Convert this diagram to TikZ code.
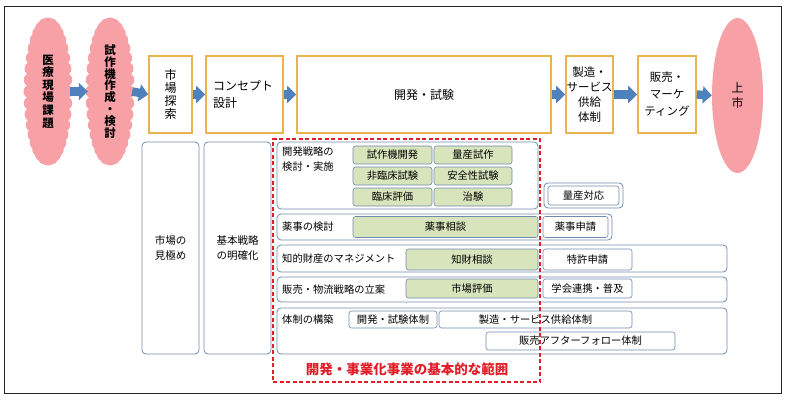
\documentclass[tikz,border=0pt]{standalone}
\usepackage{fontspec}
\setmainfont{Noto Sans CJK JP}
\usetikzlibrary{shapes.geometric,arrows.meta}
\definecolor{cloudpink}{RGB}{247,160,166}
\definecolor{stageorange}{RGB}{232,180,78}
\definecolor{flowblue}{RGB}{79,129,189}
\definecolor{laneblue}{RGB}{112,138,174}
\definecolor{taskgreen}{RGB}{216,228,188}
\definecolor{scopered}{RGB}{226,30,42}
\tikzset{
 cloudy/.style={ellipse, inner sep=0pt, minimum width=44, minimum height=146, align=center},
 stage/.style={draw=stageorange, line width=1.6pt, inner sep=0pt, align=center, font=\fontsize{11.5}{15}\selectfont},
 lane/.style={draw=laneblue, line width=.8pt, rounded corners=4pt, inner sep=0pt},
 task/.style={draw=laneblue, line width=.6pt, rounded corners=2.5pt, inner sep=0pt, fill=white, font=\fontsize{10.3}{12}\selectfont},
 greentask/.style={task, fill=taskgreen},
 flow/.style={draw=flowblue, line width=8.5pt, -{Triangle[width=17pt,length=9pt]}},
 lanetext/.style={font=\fontsize{10.3}{15}\selectfont, inner sep=0pt, align=left},
}
\newcommand\puffs[1]{%
 \fill[cloudpink, shift={(#1.center)}] (0,0) ellipse (17.5pt and 67pt);
 \foreach \t in {0,10,...,350}
  \fill[cloudpink, shift={(#1.center)}] ({17.5*cos(\t)},{67*sin(\t)}) circle (7pt);
}
\begin{document}
\begin{tikzpicture}[x=1pt, y=-1pt]
\useasboundingbox (0,0) rectangle (787,401);
\draw[black!85, line width=1pt] (4,7) rectangle (781,393);

\coordinate (kadaipos) at (48,91.5);
\coordinate (shisakupos) at (110,91.5);
\puffs{kadaipos}
\puffs{shisakupos}
\node[cloudy, font=\fontsize{11.5}{12.6}\bfseries] (kadai) at (kadaipos) {医\\療\\現\\場\\課\\題};
\node[cloudy, font=\fontsize{11.5}{11.8}\bfseries] (shisaku) at (shisakupos) {試\\作\\機\\作\\成\\・\\検\\討};

\node[stage, minimum width=43, minimum height=77, font=\fontsize{12}{13}\selectfont] (tansaku) at (170.5,94.5) {市\\場\\探\\索};
\node[stage, minimum width=77, minimum height=77, text width=63, align=left, font=\fontsize{12}{17}\selectfont] (concept) at (244.5,94.5) {コンセプト\\設計};
\node[stage, minimum width=254, minimum height=77, font=\fontsize{12}{15}\selectfont] (kaihatsu) at (424,94.5) {開発・試験};
\node[stage, minimum width=47, minimum height=77] (seizo) at (589.5,94.5) {製造・\\サービス\\供給\\体制};
\node[stage, minimum width=58, minimum height=77, font=\fontsize{11.5}{17}\selectfont] (hanbai) at (667,94.5) {販売・\\マーケ\\ティング};
\node[ellipse, fill=cloudpink, inner sep=0pt, minimum width=51, minimum height=155, align=center, font=\fontsize{12}{15}\selectfont] (jojo) at (737.5,95.5) {上\\市};

\draw[flow] (kadai.east) -- (shisaku.west);
\draw[flow] (shisaku.east) -- (tansaku.west);
\draw[flow] (tansaku.east) -- (concept.west);
\draw[flow] (concept.east) -- (kaihatsu.west);
\draw[flow] (kaihatsu.east) -- (seizo.west);
\draw[flow] (seizo.east) -- (hanbai.west);
\draw[flow] (hanbai.east) -- (jojo.west);

\node[lane, minimum width=57, minimum height=212, align=center, font=\fontsize{10.5}{15}\selectfont] (miki) at (170.5,248) {市場の\\見極め};
\node[lane, minimum width=67, minimum height=212, align=center, font=\fontsize{10.5}{15}\selectfont] (meikaku) at (237.5,248) {基本戦略\\の明確化};

\node[lane, minimum width=261, minimum height=67] (senryaku) at (407.5,175.5) {};
\node[lanetext, anchor=north west] (senryakutext) at (282,147) {開発戦略の\\検討・実施};
\node[greentask, minimum width=79, minimum height=18] (shisakuki) at (392.5,155) {試作機開発};
\node[greentask, minimum width=78, minimum height=18] (ryosanshisaku) at (473,155) {量産試作};
\node[greentask, minimum width=79, minimum height=18] (hirinsho) at (392.5,176) {非臨床試験};
\node[greentask, minimum width=78, minimum height=18] (anzen) at (473,176) {安全性試験};
\node[greentask, minimum width=79, minimum height=18] (rinsho) at (392.5,197) {臨床評価};
\node[greentask, minimum width=78, minimum height=18] (chiken) at (473,197) {治験};
\node[lane, minimum width=79, minimum height=25] (ryosanlane) at (583.5,195.5) {};
\node[task, minimum width=71, minimum height=19] (ryosan) at (ryosanlane) {量産対応};

\node[lane, minimum width=335, minimum height=26] (yakuji) at (444.5,227) {};
\node[lanetext, anchor=west] (yakujitext) at (282,227) {薬事の検討};
\node[greentask, minimum width=185, minimum height=21] (yakujisodan) at (445.5,227) {薬事相談};
\node[task, minimum width=65, minimum height=21] (yakujishinsei) at (575.5,227) {薬事申請};

\node[lane, minimum width=450, minimum height=27] (chizai) at (502,258.5) {};
\node[lanetext, anchor=west] (chizaitext) at (282,258.5) {知的財産のマネジメント};
\node[greentask, minimum width=132, minimum height=21] (chizaisodan) at (472,259.5) {知財相談};
\node[task, minimum width=89, minimum height=21] (tokkyo) at (587.5,259.5) {特許申請};

\node[lane, minimum width=450, minimum height=25] (butsuryu) at (502,289.5) {};
\node[lanetext, anchor=west] (butsuryutext) at (282,289.5) {販売・物流戦略の立案};
\node[greentask, minimum width=132, minimum height=19] (shijohyoka) at (472,288.5) {市場評価};
\node[task, minimum width=89, minimum height=19] (gakkai) at (587.5,288.5) {学会連携・普及};

\node[lane, minimum width=450, minimum height=46] (taisei) at (502,331) {};
\node[lanetext, anchor=west] (taiseitext) at (282,320) {体制の構築};
\node[task, minimum width=88, minimum height=17] (kaihatsutaisei) at (393,319.5) {開発・試験体制};
\node[task, minimum width=193, minimum height=17] (seizotaisei) at (535.5,319.5) {製造・サービス供給体制};
\node[task, minimum width=189, minimum height=18] (afterfollow) at (580.5,341) {販売アフターフォロー体制};

\node[draw=scopered, dashed, line width=1.2pt, dash pattern=on 4pt off 2.5pt, minimum width=267, minimum height=243, inner sep=0pt] (hani) at (406.5,260.5) {};
\node[text=scopered, font=\fontsize{13.5}{15}\bfseries] (hanitext) at (407,369) {開発・事業化事業の基本的な範囲};
\end{tikzpicture}
\end{document}
